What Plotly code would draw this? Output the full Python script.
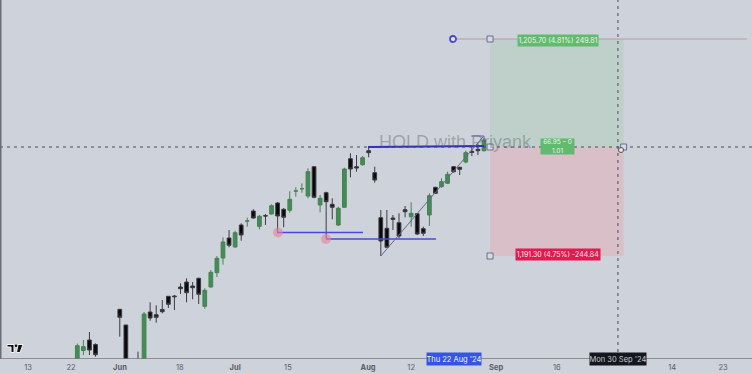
import plotly.graph_objects as go

W, H, AXIS_Y = 752, 373, 359
X0, STEP = 77.3, 6.07

def X(px):
    return (px - X0) / STEP

def V(py):
    return AXIS_Y - py

# Candle values, in chart units (height above the time axis)
bar_index = list(range(68))
opens = [-11, 8.5, 19, 14.5, -30, -40, -45, 49.7, 34, -6, -8, -8, 47, 44.3, 49.5, 62.7, 63,
         72, 77, 73, 80.7, 52.7, 72, 86.3, 101, 121, 112, 134, 138, 148, 132.7, 143.3, 145,
         156, 149.7, 148.7, 168, 170.3, 163, 192.3, 154, 166.3, 154.7, 134, 151.7, 200.3,
         192.3, 194.3, 208.3, 186.3, 141.3, 130.7, 141, 136.3, 149.3, 142.3, 145.3, 130.3,
         144, 171.7, 172.3, 175.7, 192.3, 191.7, 197, 207.7, 209.7, 208.3]
highs = [15.5, 19, 27, 15.7, -25, -35, -40, 50, 34, -4, 7.3, 47, 56.7, 53.7, 59, 63, 64,
         75.7, 80.7, 77, 81.3, 70.7, 89, 103, 121.7, 129, 128.3, 135.7, 141.3, 149.7, 144,
         145, 154.7, 157, 151, 167.7, 171.7, 175.7, 190.7, 192.3, 164, 167.3, 160.7, 152.3,
         191.3, 205.7, 204, 203, 212.3, 192.3, 149, 149, 144, 145.7, 153, 156.7, 145.7,
         132.3, 165.7, 172.3, 180.7, 187.3, 193, 192.3, 208.3, 212.3, 215.7, 220.7]
lows = [-30, 4, 4, 2.3, -60, -60, -60, 22.3, -30, -30, -30, -30, 38.3, 36.3, 45.7, 51, 49,
        65, 56.7, 59.7, 55, 50.3, 71.3, 82, 94.3, 111.7, 111.3, 118.3, 132.3, 140.3, 129.7,
        134, 144.3, 125.7, 131.7, 146.3, 162.3, 166.3, 160.7, 160.7, 146.7, 120.7, 139.7,
        133, 151.3, 181.7, 187.3, 193.3, 201.7, 176.3, 103, 111.7, 129, 120.7, 141.7, 132.3,
        124, 123, 133, 165, 171.3, 175, 186.3, 184, 195.7, 203, 204, 207.3]
closes = [13.3, 12.3, 9, 4.3, -36, -46, -50, 41.7, -6, -12, -14, 45, 41, 41.7, 47.3, 54.7,
          62.3, 70.3, 66.3, 71.3, 64.7, 68.7, 86.7, 100.7, 117, 113.7, 126.3, 124, 138, 141,
          142.7, 143, 153.3, 143, 141.7, 159.7, 168, 170.3, 187.3, 161.7, 160.7, 157.3, 151.7,
          150.7, 190, 190, 191, 201.3, 206.3, 179, 118, 111.7, 139.7, 123, 147.3, 145.7, 125,
          125.7, 163.3, 165.7, 177.3, 184.7, 187.3, 189.7, 206.3, 206.7, 208.3, 219]

# Time axis
tick_positions = [-8.1, -1.04, 7.03, 16.9, 26, 34.7, 47.9, 55, 69, 79, 98, 106.4]
tick_labels = ["13", "22", "<b>Jun</b>", "18", "<b>Jul</b>", "15", "<b>Aug</b>", "12",
               "<b>Sep</b>", "16", "14", "23"]

# Drawing tools, in bar index / chart units
support_a = ([33.06, 47.07], [126.5, 126.5])
support_b = ([40.97, 59.1], [120, 120])
entry_level = 212
target_level = 320
stop_level = 103
swing_points = [(33.06, 126.5), (40.97, 120)]
trend_line = ([50.0, 66.9], [103, 222.5])
hold_line = ([47.9, 67.0], [212, 213])
pos_left, pos_right, cursor_bar = 68.0, 90.0, 89.07
target_start, target_end = 61.9, 110.3

BG = "#ced2da"
fig = go.Figure()
fig.add_trace(go.Candlestick(
    x=bar_index, open=opens, high=highs, low=lows, close=closes,
    increasing=dict(line=dict(color="#4a8058", width=1), fillcolor="#3f8f50"),
    decreasing=dict(line=dict(color="#3c3c40", width=1), fillcolor="#0a0a0c"),
    whiskerwidth=0, hoverinfo="skip", showlegend=False))

shapes = []
def line(x, y, color, width=1, dash="solid", layer="above"):
    shapes.append(dict(type="line", x0=x[0], x1=x[1], y0=y[0], y1=y[1], layer=layer,
                       line=dict(color=color, width=width, dash=dash)))

# Position boxes
shapes.append(dict(type="rect", x0=pos_left, x1=pos_right, y0=entry_level, y1=target_level,
                   fillcolor="#bfcfca", line_width=0, layer="below"))
shapes.append(dict(type="rect", x0=pos_left, x1=pos_right, y0=stop_level, y1=entry_level,
                   fillcolor="#d9bfc8", line_width=0, layer="below"))
line([target_start, target_end], [target_level, target_level], "#b89aa4", 1.2)
line([X(0), X(752)], [entry_level, entry_level], "#4a4d55", 1, "3px,4px")
line([cursor_bar, cursor_bar], [0, 359], "#4a4d55", 1, "3px,4px")
line(*support_a, "#4a48d8", 1.4)
line(*support_b, "#4a48d8", 1.4)
line(*hold_line, "#2f2fc0", 1.8)
line(*trend_line, "#6a6490", 1)
line([64.9, 67.0], [223, 223], "#6a5fb0", 1)
line([67.0, 67.0], [223, 216], "#6a5fb0", 1)

def circle(xc, yc, r, **kw):
    shapes.append(dict(type="circle", x0=X(X0 + xc * STEP - r), x1=X(X0 + xc * STEP + r),
                       y0=yc - r, y1=yc + r, **kw))

for sx, sy in swing_points:
    circle(sx, sy, 5, fillcolor="rgba(232,130,155,0.6)", line_width=0, layer="above")
circle(target_start, target_level, 3, fillcolor="#e6e8f0", line=dict(color="#4a48d8", width=1.8), layer="above")
for hx, hy in [(pos_left, target_level), (pos_left, entry_level), (pos_right, entry_level),
               (pos_left, stop_level)]:
    shapes.append(dict(type="rect", x0=hx - 3 / STEP, x1=hx + 3 / STEP, y0=hy - 3, y1=hy + 3,
                       fillcolor="#d6dae4", line=dict(color="#6a6e90", width=1), layer="above"))
# cursor
circle(X(621), V(150), 2.5, fillcolor="#e8e8ea", line=dict(color="#505056", width=1), layer="above")

# Logo
def logo_path(pts):
    return "M" + "L".join(f"{X(a):.3f},{V(b):.2f}" for a, b in pts) + "Z"
for pts in ([(7, 344.5), (14, 344.5), (14, 352.5), (11, 352.5), (11, 347), (7, 347)],
            [(18, 344.5), (23, 344.5), (20, 352.5), (16.5, 352.5)]):
    shapes.append(dict(type="path", path=logo_path(pts), fillcolor="#101014",
                       line=dict(color="#f2f2f4", width=1), layer="above"))
circle(X(16), V(345.8), 1.3, fillcolor="#101014", line_width=0, layer="above")
# left edge and axis line
line([X(0.5), X(0.5)], [0, 373], "#6a6d74", 2)
line([X(0), X(752)], [0, 0], "#74777e", 1.5)

def tag(px, py, w, h, text, bg, size=7.5, color="#eef4ef"):
    return dict(x=X(px), y=V(py) / AXIS_Y, xref="x", yref="paper", text=text, showarrow=False,
                width=w, height=h, bgcolor=bg, borderpad=0, align="center", valign="middle",
                font=dict(family="Inter, Liberation Sans", size=size, color=color))

annotations = [
    dict(x=X(377), y=V(142), xref="x", yref="y", xanchor="left", text="HOLD with Priyank",
         showarrow=False, font=dict(family="Liberation Sans", size=18, color="rgba(90,95,105,0.42)")),
    tag(557.5, 34, 80, 11, "1,205.70 (4.81%) 249.81", "#60bb6e", 7),
    tag(557, 146, 33, 15, "66.95 – 0<br>1.01", "#60bb6e", 6.5),
    tag(557.5, 261, 84, 11, "1,191.30 (4.75%) -244.84", "#e8174f", 7),
    tag(454, 366, 54, 12, "Thu 22 Aug '24", "#3655e8", 7.5),
    tag(618, 366, 56, 12, "Mon 30 Sep '24", "#14171f", 7.5, "#c8cad0"),
]

fig.update_layout(
    width=W, height=H, autosize=False, margin=dict(l=0, r=0, t=0, b=H - AXIS_Y),
    paper_bgcolor=BG, plot_bgcolor=BG, boxgap=0.12, showlegend=False,
    shapes=shapes, annotations=annotations,
    xaxis=dict(range=[X(0), X(752)], rangeslider=dict(visible=False), showgrid=False,
               zeroline=False, showline=False, ticks="", tickmode="array",
               tickvals=tick_positions, ticktext=tick_labels, ticklabelstandoff=2,
               tickfont=dict(family="Inter, Liberation Sans", size=7.5, color="#5a5d66")),
    yaxis=dict(range=[0, AXIS_Y], visible=False, showgrid=False, zeroline=False),
)
fig.write_html("out.html", config=dict(displayModeBar=False),
               post_script="document.body.style.margin='0';document.body.style.overflow='hidden';"
                           "document.documentElement.style.background='#ced2da';")
